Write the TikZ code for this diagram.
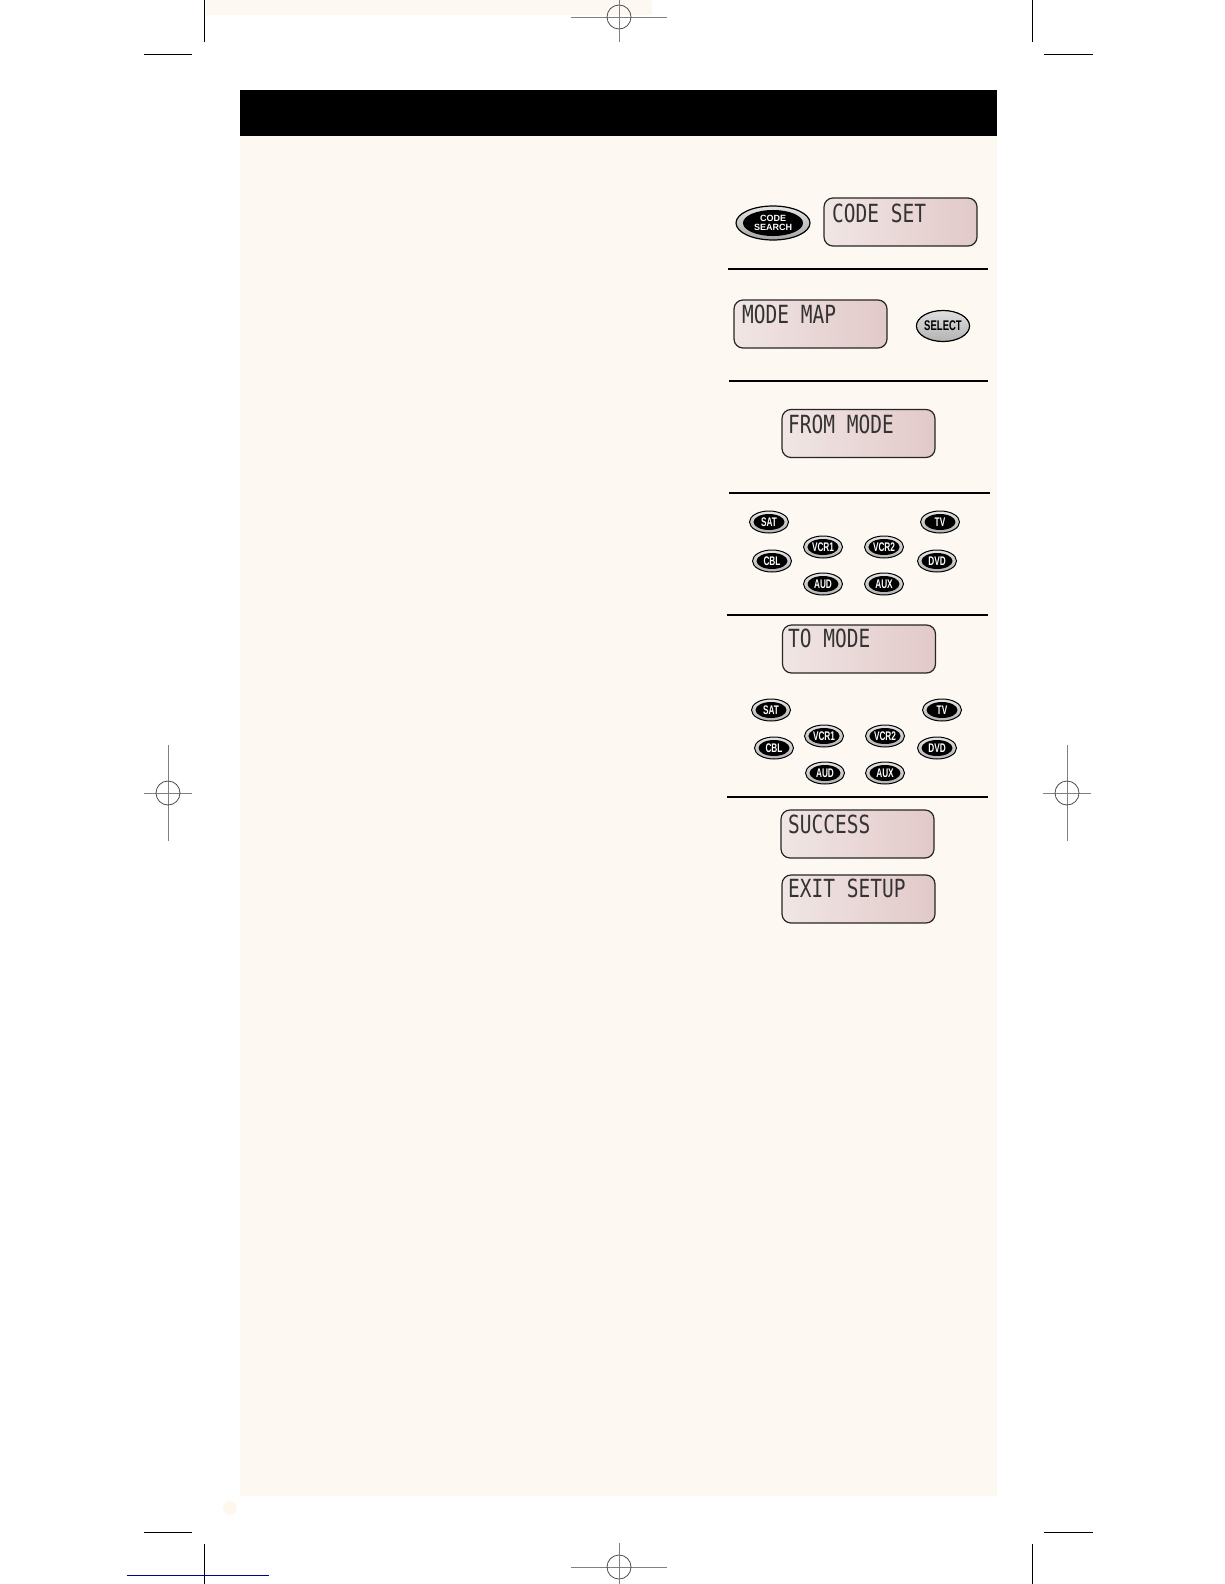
\documentclass[tikz,border=0pt]{standalone}
\usepackage{fontspec}
\usepackage{graphicx}
\usetikzlibrary{shapes.geometric}
\newfontfamily\lcdfont{DejaVu Sans Mono}
\newfontfamily\keyfont{Liberation Sans}
\definecolor{cream}{HTML}{FEF8F2}
\definecolor{lcdL}{HTML}{F0E6E4}
\definecolor{lcdR}{HTML}{E2C9C9}
\definecolor{cropgray}{HTML}{808080}
\tikzset{
  lcdbox/.style={rounded corners=9pt, draw=black!85, line width=1.2pt,
    left color=lcdL, right color=lcdR, minimum width=153pt, minimum height=48pt, inner sep=0pt},
  lcdtext/.style={anchor=base west, inner sep=0pt, font=\lcdfont\fontsize{25}{25}\selectfont, text=black!80},
  keyouter/.style={ellipse, draw=black, line width=1pt, top color=gray!20, bottom color=gray!60,
    minimum width=39pt, minimum height=22pt, inner sep=0pt},
  keyinner/.style={ellipse, fill=black, minimum width=31pt, minimum height=16pt, inner sep=0pt,
    text=white, font=\keyfont\bfseries\fontsize{12.5}{12.5}\selectfont},
  sepline/.style={line width=1.1pt, black},
  cropline/.style={line width=0.8pt, black},
  crossline/.style={line width=0.8pt, cropgray}
}
\newcommand{\modekey}[3]{%
  \node[keyouter] (#1) at (#2) {};
  \node[keyinner] (#1i) at (#1) {\scalebox{0.66}[1]{#3}};
}
\newcommand{\lcdline}[3]{%
  \node[lcdtext] (#1) at (#2) {\scalebox{0.78}[1]{#3}};
}
\newcommand{\crosshair}[4]{% name, center, half-length horizontal, half-length vertical
  \coordinate (#1) at (#2);
  \draw[crossline] ([xshift=-#3pt]#1) -- ([xshift=#3pt]#1);
  \draw[crossline] ([yshift=#4pt]#1) -- ([yshift=-#4pt]#1);
  \draw[line width=0.8pt, black!70] (#1) circle[radius=12pt];
}
\begin{document}
\begin{tikzpicture}[x=1pt, y=-1pt]
\useasboundingbox (0,0) rectangle (1224,1584);
\fill[white] (0,0) rectangle (1224,1584);
% cream page areas
\fill[cream] (206,0) rectangle (652,15);
\fill[cream] (240,136) rectangle (997,1496);
\fill[cream!80!orange!30] (230,1508) circle[radius=7pt];
% header bar
\fill[black] (240,90) rectangle (997,136);

% crop marks
\draw[cropline] (204,0) -- (204,42);
\draw[cropline] (144,54) -- (192,54);
\draw[cropline] (1032,0) -- (1032,42);
\draw[cropline] (1044,54) -- (1093,54);
\draw[cropline] (204,1544) -- (204,1584);
\draw[cropline] (144,1532) -- (192,1532);
\draw[cropline] (1032,1544) -- (1032,1584);
\draw[cropline] (1044,1532) -- (1093,1532);
\draw[line width=0.9pt, blue!60!black] (127,1575) -- (269,1575);
\crosshair{ctop}{619,17}{48}{24}
\draw[crossline] (619,0) -- (619,42);
\crosshair{cbot}{619,1567}{48}{24}
\draw[crossline] (619,1544) -- (619,1584);
\crosshair{cleft}{168,793}{24}{48}
\crosshair{cright}{1067,793}{24}{48}

% separators
\draw[sepline] (728,269) -- (988,269);
\draw[sepline] (729,381) -- (988,381);
\draw[sepline] (729,493) -- (990,493);
\draw[sepline] (727,615) -- (988,615);
\draw[sepline] (727,797) -- (988,797);

% step 1
\node[ellipse, draw=black, line width=1.2pt, top color=gray!20, bottom color=gray!70,
  minimum width=74pt, minimum height=34pt, inner sep=0pt] (codesearch) at (773,223) {};
\node[ellipse, fill=black, minimum width=60pt, minimum height=26pt, inner sep=0pt, text=white, align=center,
  font=\keyfont\bfseries\fontsize{9}{9}\selectfont] (codesearchi) at (codesearch) {CODE\\SEARCH};
\node[lcdbox] (codeset) at (900.5,222) {};
\lcdline{codesetT}{832,222}{CODE SET}

% step 2
\node[lcdbox] (modemap) at (810.5,324) {};
\lcdline{modemapT}{742,323}{MODE MAP}
\node[ellipse, draw=black, line width=1.2pt, top color=gray!25, bottom color=gray!60,
  minimum width=53pt, minimum height=31pt, inner sep=0pt,
  font=\keyfont\bfseries\fontsize{14}{14}\selectfont] (select) at (943,326) {\scalebox{0.68}[1]{SELECT}};

% step 3
\node[lcdbox] (frommode) at (858.5,433.5) {};
\lcdline{frommodeT}{788,433}{FROM MODE}

% step 4 keys
\modekey{sat1}{769,522}{SAT}
\modekey{tv1}{940,522}{TV}
\modekey{vcra1}{823,547}{VCR1}
\modekey{vcrb1}{884,547}{VCR2}
\modekey{cbl1}{772,561}{CBL}
\modekey{dvd1}{937,561}{DVD}
\modekey{aud1}{823,584}{AUD}
\modekey{aux1}{884,584}{AUX}

% step 5
\node[lcdbox] (tomode) at (859,649) {};
\lcdline{tomodeT}{788,647}{TO MODE}
\modekey{sat2}{771,710}{SAT}
\modekey{tv2}{942,710}{TV}
\modekey{vcra2}{824,736}{VCR1}
\modekey{vcrb2}{885,736}{VCR2}
\modekey{cbl2}{774,748}{CBL}
\modekey{dvd2}{937,748}{DVD}
\modekey{aud2}{825,773}{AUD}
\modekey{aux2}{885,773}{AUX}

% step 6
\node[lcdbox] (success) at (857.5,834) {};
\lcdline{successT}{788,833}{SUCCESS}
\node[lcdbox] (exitsetup) at (858.5,899) {};
\lcdline{exitsetupT}{788,897}{EXIT SETUP}
\end{tikzpicture}
\end{document}
